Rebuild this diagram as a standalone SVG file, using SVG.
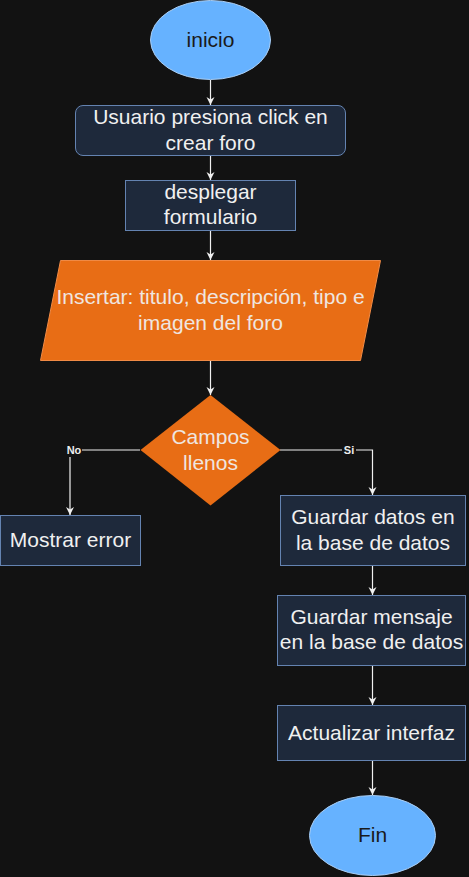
<svg xmlns="http://www.w3.org/2000/svg" width="469" height="877" viewBox="0 0 469 877">
<defs>
<marker id="arr" markerWidth="10" markerHeight="10" refX="8" refY="4" orient="auto" markerUnits="userSpaceOnUse">
<path d="M0,0 L8,4 L0,8 L2.5,4 Z" fill="#f0f0f0"/>
</marker>
</defs>
<style>
.bg{fill:#121212}
.term{fill:#66b2ff;stroke:#a9cdf3;stroke-width:1}
.box{fill:#1e293b;stroke:#6483b1;stroke-width:1}
.orange{fill:#e86d15;stroke:#f08a45;stroke-width:1}
.t{font-family:"Liberation Sans",sans-serif;font-size:21px;text-anchor:middle;fill:#f0f0f0}
.td{font-family:"Liberation Sans",sans-serif;font-size:21px;text-anchor:middle;fill:#1a1a1a}
.to{font-family:"Liberation Sans",sans-serif;font-size:21px;text-anchor:middle;fill:#efe6e0}
.edge{fill:none;stroke:#f0f0f0;stroke-width:1.2;marker-end:url(#arr)}
.lbl{font-family:"Liberation Sans",sans-serif;font-size:11px;font-weight:bold;text-anchor:middle;fill:#eeeeee}
</style>
<rect class="bg" x="0" y="0" width="469" height="877"/>
<g id="connectors">
<path class="edge" d="M210.5,80 L210.5,105"/>
<path class="edge" d="M210.5,155 L210.5,180"/>
<path class="edge" d="M210.5,230 L210.5,260"/>
<path class="edge" d="M210.5,360 L210.5,395"/>
<path class="edge" d="M140,450 L70,450 L70,515"/>
<path class="edge" d="M280,450 L372.5,450 L372.5,495"/>
<path class="edge" d="M372.5,565 L372.5,595"/>
<path class="edge" d="M372.5,665 L372.5,705"/>
<path class="edge" d="M372.5,760 L372.5,795"/>
<rect class="bg" x="66" y="443" width="16" height="14"/>
<text class="lbl" x="74" y="454">No</text>
<rect class="bg" x="342" y="443" width="14" height="14"/>
<text class="lbl" x="349" y="454">Si</text>
</g>
<g id="inicio">
<ellipse class="term" cx="210.5" cy="40" rx="60" ry="39.5"/>
<text class="td" x="210.5" y="46.5">inicio</text>
</g>
<g id="usuario">
<rect class="box" x="75.5" y="105.5" width="270" height="50" rx="7.5"/>
<text class="t" x="210.5" y="124">Usuario presiona click en</text>
<text class="t" x="210.5" y="150">crear foro</text>
</g>
<g id="desplegar">
<rect class="box" x="125.5" y="180.5" width="170" height="50"/>
<text class="t" x="210.5" y="199">desplegar</text>
<text class="t" x="210.5" y="224">formulario</text>
</g>
<g id="insertar">
<polygon class="orange" points="60.5,260.5 380.5,260.5 360.5,360.5 40.5,360.5"/>
<text class="to" x="210.5" y="304">Insertar: titulo, descripción, tipo e</text>
<text class="to" x="210.5" y="330">imagen del foro</text>
</g>
<g id="campos">
<polygon class="orange" points="210.5,395 280.5,450 210.5,505.5 140.5,450" style="stroke:none"/>
<text class="to" x="210.5" y="444">Campos</text>
<text class="to" x="210.5" y="470">llenos</text>
</g>
<g id="mostrar">
<rect class="box" x="0.5" y="515.5" width="140" height="50"/>
<text class="t" x="70.5" y="547">Mostrar error</text>
</g>
<g id="guardar-datos">
<rect class="box" x="280.5" y="495.5" width="185" height="70"/>
<text class="t" x="373" y="524">Guardar datos en</text>
<text class="t" x="373" y="550">la base de datos</text>
</g>
<g id="guardar-mensaje">
<rect class="box" x="277.5" y="595.5" width="188" height="70"/>
<text class="t" x="371.5" y="624">Guardar mensaje</text>
<text class="t" x="371.5" y="649">en la base de datos</text>
</g>
<g id="actualizar">
<rect class="box" x="277.5" y="705.5" width="188" height="55"/>
<text class="t" x="371.5" y="740">Actualizar interfaz</text>
</g>
<g id="fin">
<ellipse class="term" cx="372.5" cy="835.5" rx="63" ry="40"/>
<text class="td" x="372.5" y="842">Fin</text>
</g>
</svg>
